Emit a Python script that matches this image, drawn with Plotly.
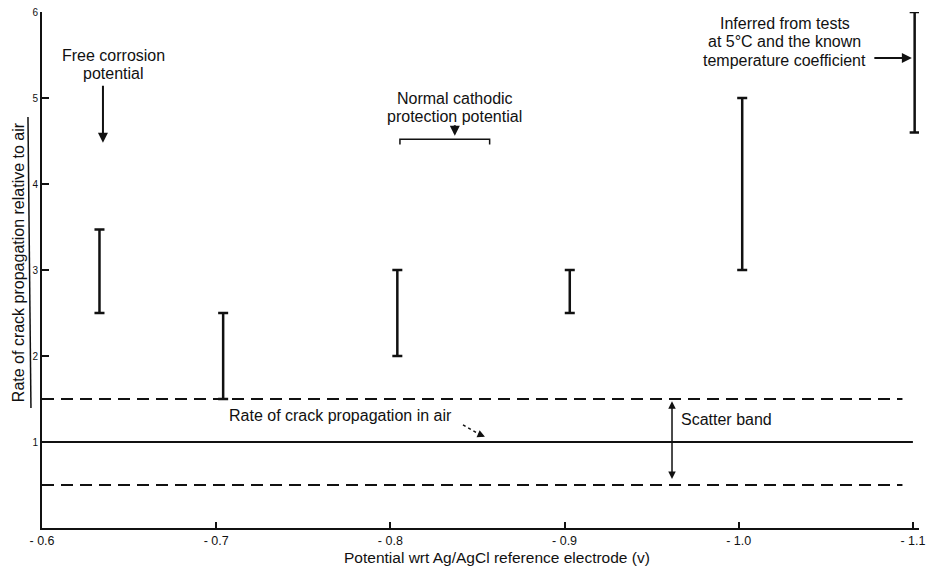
import plotly.graph_objects as go

# Measured crack-growth rate ranges (relative to air) at each potential
potential = [-0.633, -0.704, -0.804, -0.903, -1.002, -1.101]
rate_low = [2.50, 1.50, 2.00, 2.50, 3.00, 4.60]
rate_high = [3.47, 2.50, 3.00, 3.00, 5.00, 6.00]

# Reference line for growth in air and its scatter band
air_x = [-0.6, -1.1]
air_rate = [1.0, 1.0]
band_x = [-0.6, -1.094]
band_upper = [1.5, 1.5]
band_lower = [0.5, 0.5]

x_ticks = [-0.6, -0.7, -0.8, -0.9, -1.0, -1.1]
x_tick_text = ["- 0.6", "- 0.7", "- 0.8", "- 0.9", "- 1.0", "- 1.1"]
y_ticks = [0, 1, 2, 3, 4, 5, 6]
y_tick_text = ["", "1", "2", "3", "4", "5", "6"]

FONT = "Liberation Sans, Arial, sans-serif"
INK = "#111111"
TEXT_SIZE = 16

mid = [(a + b) / 2 for a, b in zip(rate_low, rate_high)]
half = [(b - a) / 2 for a, b in zip(rate_low, rate_high)]

fig = go.Figure()

fig.add_trace(go.Scatter(
    x=air_x, y=air_rate, mode="lines",
    line=dict(color=INK, width=2), hoverinfo="skip", showlegend=False))
for yb in (band_upper, band_lower):
    fig.add_trace(go.Scatter(
        x=band_x, y=yb, mode="lines",
        line=dict(color=INK, width=2, dash="12px,7px"),
        hoverinfo="skip", showlegend=False))

fig.add_trace(go.Scatter(
    x=potential, y=mid, mode="markers",
    marker=dict(size=1, opacity=0),
    error_y=dict(type="data", symmetric=True, array=half,
                 width=5, thickness=2.5, color=INK),
    cliponaxis=False, showlegend=False))


def text(x, y, s):
    fig.add_annotation(x=x, y=y, text=s, showarrow=False,
                       xanchor="center", yanchor="middle",
                       font=dict(family=FONT, size=TEXT_SIZE, color=INK))


def arrow(x, y, ax, ay, side="end", width=2):
    fig.add_annotation(x=x, y=y, ax=ax, ay=ay, axref="x", ayref="y",
                       text="", showarrow=True, arrowhead=2, arrowsize=1,
                       arrowwidth=width, arrowcolor=INK, arrowside=side)


# Free corrosion potential
text(-0.6408, 5.50, "Free corrosion")
text(-0.6408, 5.29, "potential")
arrow(-0.6350, 4.48, -0.6350, 5.16)

# Normal cathodic protection potential with bracket
text(-0.837, 5.00, "Normal cathodic")
text(-0.837, 4.79, "protection potential")
arrow(-0.837, 4.56, -0.837, 4.70)
fig.add_shape(type="path",
              path="M -0.8055,4.46 L -0.8055,4.52 L -0.857,4.52 L -0.857,4.46",
              line=dict(color=INK, width=1.5))

# Inferred value
text(-1.0265, 5.87, "Inferred from tests")
text(-1.0265, 5.655, "at 5\u00b0C and the known")
text(-1.0265, 5.435, "temperature coefficient")
arrow(-1.0994, 5.465, -1.077, 5.465)

# Air growth rate label with dotted pointer
text(-0.7716, 1.31, "Rate of crack propagation in air")
fig.add_shape(type="line", x0=-0.8417, y0=1.20, x1=-0.8520, y1=1.08,
              line=dict(color=INK, width=1.5, dash="dot"))
arrow(-0.8543, 1.06, -0.8510, 1.09, width=1.5)

# Scatter band
text(-0.9932, 1.256, "Scatter band")
arrow(-0.9617, 0.57, -0.9617, 1.49, side="end+start", width=1.5)

# Axis titles
fig.add_annotation(xref="paper", yref="paper", x=-0.0275, y=0.515,
                   xanchor="center", yanchor="middle",
                   text="Rate of crack propagation relative to air",
                   textangle=-90, showarrow=False,
                   font=dict(family=FONT, size=16, color=INK))
fig.add_annotation(xref="paper", yref="paper", x=0.519, y=-0.058,
                   xanchor="center", yanchor="middle",
                   text="Potential wrt Ag/AgCl reference electrode (v)",
                   showarrow=False,
                   font=dict(family=FONT, size=15.5, color=INK))

# Rule beside the y-axis title
fig.add_shape(type="line", xref="paper", yref="paper",
              x0=-0.016, y0=0.7965, x1=-0.0126, y1=0.2326,
              line=dict(color=INK, width=1.5))

fig.update_layout(
    width=926, height=576,
    margin=dict(l=42, r=7, t=12, b=48, autoexpand=False),
    paper_bgcolor="white", plot_bgcolor="white",
    font=dict(family=FONT, color=INK),
    xaxis=dict(range=[-0.6, -1.1035], tickvals=x_ticks, ticktext=x_tick_text,
               showgrid=False, zeroline=False, showline=True,
               linecolor=INK, linewidth=2, ticks="inside", ticklen=6,
               tickwidth=1.5, tickcolor=INK, ticklabeloverflow="allow",
               automargin=False,
               tickfont=dict(family=FONT, size=12.5, color=INK)),
    yaxis=dict(range=[0, 6], tickvals=y_ticks, ticktext=y_tick_text,
               showgrid=False, zeroline=False, showline=True,
               linecolor=INK, linewidth=2, ticks="inside", ticklen=7,
               tickwidth=1.5, tickcolor=INK, automargin=False,
               tickfont=dict(family=FONT, size=10, color=INK)),
)

fig.write_html("out.html")
